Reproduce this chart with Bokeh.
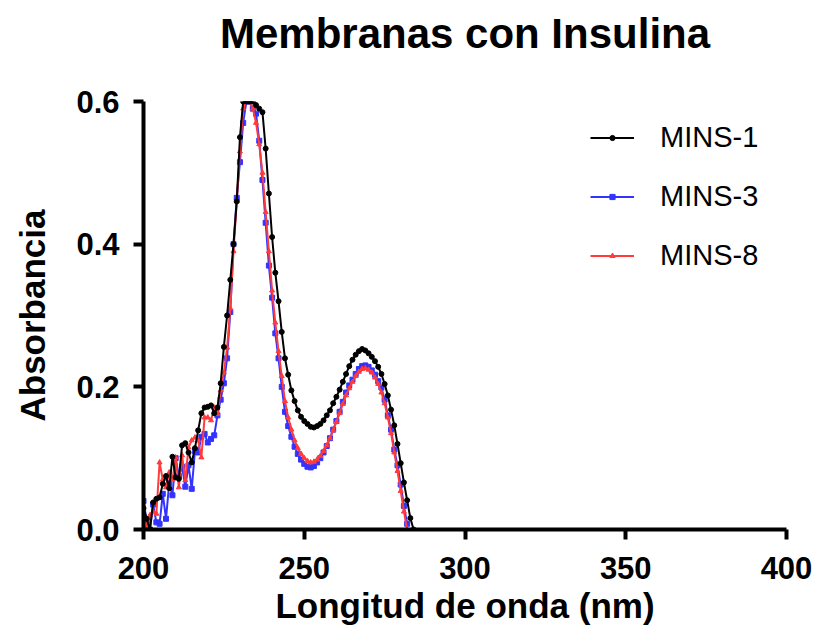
from bokeh.plotting import figure
from bokeh.models import Legend, LegendItem, FixedTicker, Range1d
from bokeh.embed import file_html
from bokeh.resources import INLINE

# ---------------- data ----------------
wl_mins1 = list(range(200, 285))
abs_mins1 = [
    0.030, 0.015, 0.000, 0.038, 0.043, 0.045, 0.064, 0.075, 0.058, 0.102,
    0.073, 0.071, 0.118, 0.121, 0.108, 0.094, 0.114, 0.139, 0.163, 0.171,
    0.172, 0.174, 0.163, 0.171, 0.205, 0.256, 0.300, 0.350, 0.400, 0.460,
    0.550, 0.600, 0.600, 0.600, 0.600, 0.595, 0.590, 0.585, 0.534, 0.471,
    0.410, 0.360, 0.320, 0.277, 0.240, 0.217, 0.195, 0.180, 0.167, 0.158,
    0.152, 0.148, 0.144, 0.143, 0.145, 0.148, 0.153, 0.160, 0.167, 0.177,
    0.186, 0.196, 0.207, 0.218, 0.229, 0.238, 0.245, 0.250, 0.253, 0.251,
    0.247, 0.242, 0.236, 0.228, 0.218, 0.204, 0.188, 0.168, 0.146, 0.120,
    0.093, 0.066, 0.041, 0.016, 0.000,
]

wl_mins3 = list(range(200, 283))
abs_mins3 = [
    0.040, 0.012, 0.000, 0.035, 0.010, 0.008, 0.050, 0.015, 0.065, 0.048,
    0.100, 0.075, 0.088, 0.060, 0.090, 0.057, 0.110, 0.108, 0.130, 0.134,
    0.122, 0.127, 0.132, 0.160, 0.182, 0.205, 0.240, 0.305, 0.400, 0.465,
    0.515, 0.570, 0.600, 0.600, 0.590, 0.583, 0.545, 0.490, 0.430, 0.370,
    0.325, 0.275, 0.240, 0.200, 0.165, 0.145, 0.130, 0.116, 0.106, 0.098,
    0.092, 0.088, 0.087, 0.089, 0.094, 0.100, 0.108, 0.117, 0.128, 0.140,
    0.152, 0.165, 0.179, 0.192, 0.202, 0.210, 0.218, 0.225, 0.229, 0.230,
    0.228, 0.223, 0.217, 0.208, 0.199, 0.182, 0.160, 0.140, 0.112, 0.090,
    0.063, 0.033, 0.008,
]

wl_mins8 = list(range(200, 283))
abs_mins8 = [
    0.030, 0.003, 0.020, 0.025, 0.022, 0.094, 0.070, 0.059, 0.080, 0.070,
    0.101, 0.059, 0.104, 0.069, 0.115, 0.125, 0.129, 0.125, 0.101, 0.157,
    0.157, 0.153, 0.171, 0.162, 0.195, 0.220, 0.255, 0.310, 0.390, 0.460,
    0.530, 0.590, 0.600, 0.600, 0.590, 0.570, 0.540, 0.500, 0.445, 0.390,
    0.335, 0.290, 0.250, 0.215, 0.180, 0.157, 0.140, 0.125, 0.114, 0.106,
    0.100, 0.096, 0.094, 0.095, 0.098, 0.103, 0.110, 0.118, 0.128, 0.139,
    0.151, 0.163, 0.176, 0.188, 0.198, 0.207, 0.215, 0.221, 0.225, 0.226,
    0.224, 0.220, 0.213, 0.204, 0.192, 0.177, 0.157, 0.135, 0.108, 0.082,
    0.054, 0.025, 0.000,
]

series_names = ["MINS-1", "MINS-3", "MINS-8"]
x_ticks = [200, 250, 300, 350, 400]
x_tick_labels = ["200", "250", "300", "350", "400"]
y_ticks = [0.0, 0.2, 0.4, 0.6]
y_tick_labels = ["0.0", "0.2", "0.4", "0.6"]
title_text = "Membranas con Insulina"

FONT = "Liberation Sans"
BLACK = "#000000"
BLUE = "#3333ff"
RED = "#ff3b3b"

p = figure(width=814, height=644, output_backend="svg", toolbar_location=None,
           x_range=Range1d(200, 400), y_range=Range1d(0, 0.6),
           min_border_left=143, min_border_right=28,
           min_border_top=101, min_border_bottom=115)

bottom_axis = p.below[0]
left_axis = p.left[0]

# a trailing empty line lifts the title away from the plot frame
p.title.text = title_text + "\n"
p.title.align = "center"
p.title.vertical_align = "bottom"
p.title.text_font = FONT
p.title.text_font_size = "42px"
p.title.text_font_style = "bold"
p.title.text_line_height = 1.0
p.title.text_color = "#000000"
p.title.standoff = -4

p.xgrid.visible = False
p.ygrid.visible = False
p.outline_line_color = None

for ax in (bottom_axis, left_axis):
    ax.axis_line_width = 4
    ax.axis_line_color = "#000000"
    ax.major_tick_line_width = 4
    ax.major_tick_line_color = "#000000"
    ax.major_tick_out = 10
    ax.major_tick_in = 0
    ax.minor_tick_out = 0
    ax.minor_tick_in = 0
    ax.major_label_text_font = FONT
    ax.major_label_text_font_style = "bold"
    ax.major_label_text_font_size = "31px"
    ax.major_label_text_color = "#000000"
    ax.axis_label_text_font = FONT
    ax.axis_label_text_font_style = "bold"
    ax.axis_label_text_font_size = "35px"
    ax.axis_label_text_color = "#000000"

bottom_axis.ticker = FixedTicker(ticks=x_ticks)
bottom_axis.major_label_overrides = dict(zip(x_ticks, x_tick_labels))
left_axis.ticker = FixedTicker(ticks=y_ticks)
left_axis.major_label_overrides = dict(zip(y_ticks, y_tick_labels))
bottom_axis.axis_label = "Longitud de onda (nm)"
left_axis.axis_label = "Absorbancia"
bottom_axis.major_label_standoff = 17
bottom_axis.axis_label_standoff = 4
left_axis.major_label_standoff = 14
left_axis.axis_label_standoff = 21

# draw order: blue, red, black
l3 = p.line(wl_mins3, abs_mins3, line_color=BLUE, line_width=2)
m3 = p.scatter(wl_mins3, abs_mins3, marker="square", size=5, color=BLUE)
l8 = p.line(wl_mins8, abs_mins8, line_color=RED, line_width=2)
m8 = p.scatter(wl_mins8, abs_mins8, marker="triangle", size=5, color=RED)
l1 = p.line(wl_mins1, abs_mins1, line_color=BLACK, line_width=2)
m1 = p.scatter(wl_mins1, abs_mins1, marker="circle", size=5, color=BLACK)

legend = Legend(items=[
    LegendItem(label=series_names[0], renderers=[l1, m1]),
    LegendItem(label=series_names[1], renderers=[l3, m3]),
    LegendItem(label=series_names[2], renderers=[l8, m8]),
], location=(447, 257))
legend.background_fill_alpha = 0
legend.border_line_color = None
legend.padding = 0
legend.margin = 0
legend.spacing = 25
legend.glyph_height = 13
legend.label_height = 34
legend.glyph_width = 44
legend.label_standoff = 26
legend.label_text_font = FONT
legend.label_text_font_size = "29px"
legend.label_text_color = "#000000"
p.add_layout(legend)

open("out.html", "w").write(file_html(p, INLINE))
